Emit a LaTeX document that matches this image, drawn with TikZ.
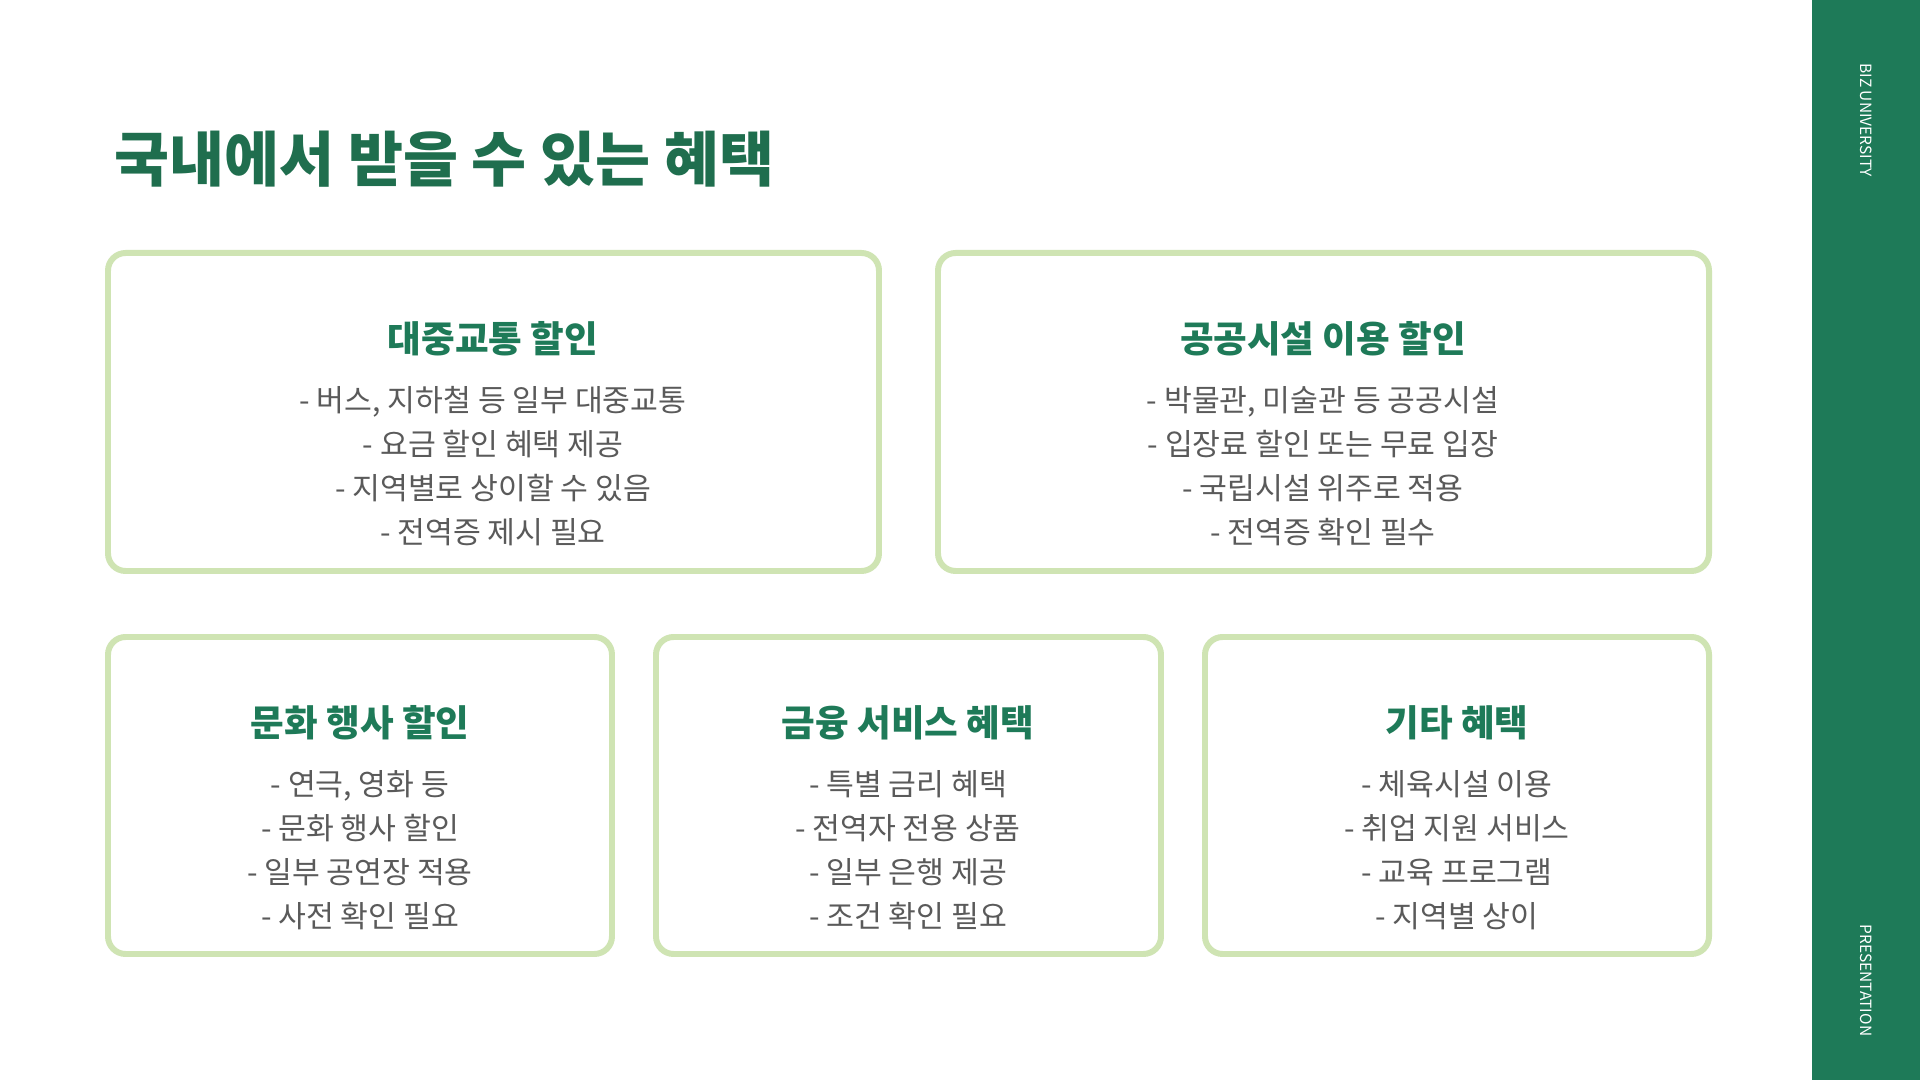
\documentclass[tikz,border=0pt]{standalone}
\usepackage{fontspec}
\setmainfont{Noto Sans CJK KR}
\newfontfamily\krb{Noto Sans CJK KR Bold}
\definecolor{dkgreen}{HTML}{1E7A58}
\definecolor{ttl}{HTML}{1F6E4E}
\definecolor{brd}{HTML}{CFE4B3}
\definecolor{txt}{HTML}{5A5A5A}
\begin{document}
\begin{tikzpicture}[x=0.01cm,y=-0.01cm,
  card/.style={draw=brd,line width=1.7pt,rounded corners=5pt},
  head/.style={font=\fontsize{10.4}{12}\selectfont\bfseries,text=dkgreen,anchor=center},
  body/.style={font=\fontsize{8.6}{12.5}\selectfont,text=txt,align=center,anchor=north}]
\fill[white] (0,0) rectangle (1920,1080);
\useasboundingbox (0,0) rectangle (1920,1080);
\fill[dkgreen] (1812,0) rectangle (1920,1080);
\node[rotate=-90,anchor=west,text=white,font=\fontsize{4.4}{5}\selectfont] (v1) at (1866,51) {BIZ UNIVERSITY};
\node[rotate=-90,anchor=west,text=white,font=\fontsize{4.4}{5}\selectfont] (v2) at (1866,912) {PRESENTATION};
\node[anchor=west,text=ttl,font=\fontsize{17}{20}\selectfont\bfseries] (title) at (102,159) {국내에서 받을 수 있는 혜택};
% boxes
\draw[card] (108,253) rectangle (879,571);
\draw[card] (938,253) rectangle (1709,571);
\draw[card] (108,637) rectangle (612,954);
\draw[card] (656,637) rectangle (1161,954);
\draw[card] (1205,637) rectangle (1709,954);
\node[head] (h1) at (493,339) {대중교통 할인};
\node[body] (b1) at (493,374) {- 버스, 지하철 등 일부 대중교통\\- 요금 할인 혜택 제공\\- 지역별로 상이할 수 있음\\- 전역증 제시 필요};
\node[head] (h2) at (1323,339) {공공시설 이용 할인};
\node[body] (b2) at (1323,374) {- 박물관, 미술관 등 공공시설\\- 입장료 할인 또는 무료 입장\\- 국립시설 위주로 적용\\- 전역증 확인 필수};
\node[head] (h3) at (360,723) {문화 행사 할인};
\node[body] (b3) at (360,758) {- 연극, 영화 등\\- 문화 행사 할인\\- 일부 공연장 적용\\- 사전 확인 필요};
\node[head] (h4) at (908,723) {금융 서비스 혜택};
\node[body] (b4) at (908,758) {- 특별 금리 혜택\\- 전역자 전용 상품\\- 일부 은행 제공\\- 조건 확인 필요};
\node[head] (h5) at (1457,723) {기타 혜택};
\node[body] (b5) at (1457,758) {- 체육시설 이용\\- 취업 지원 서비스\\- 교육 프로그램\\- 지역별 상이};
\end{tikzpicture}
\end{document}
